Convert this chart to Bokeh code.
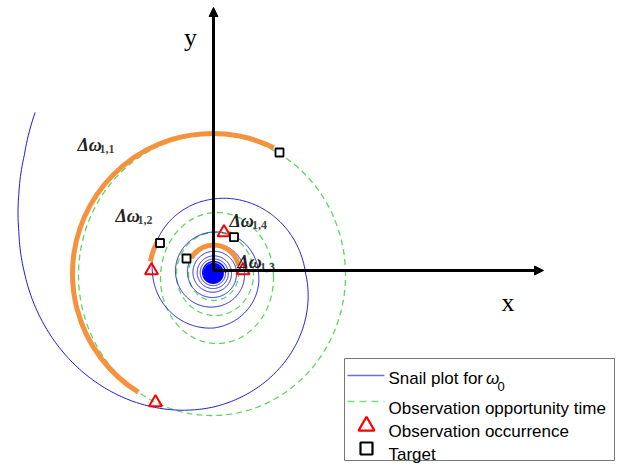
import numpy as np
from bokeh.plotting import figure
from bokeh.models import Range1d, Arrow, NormalHead
from bokeh.core.properties import value
from bokeh.embed import file_html
from bokeh.resources import INLINE

# ---------------- data (1 unit = 1 px, origin at axes crossing) ----------------
# Blue snail spiral: anchor angles (deg, counter-clockwise from +x) and radii, outer end first
snail_angle = [138, 148, 158, 168, 180, 270, 360, 450, 540, 630, 720, 810, 900, 990, 1080, 1170,
               1260, 1350, 1440, 1620, 1800, 1980, 2160, 2340, 2520, 2700, 2880,
               3240, 3600, 3960, 4320, 4680, 5040, 5400, 5760, 6120, 6480, 6840, 7200,
               7560, 7920, 8280, 8640, 9000, 9360]
snail_radius = [240, 223, 210, 199, 189, 134, 92, 74, 61, 55, 45, 41, 38, 34, 31, 28.5,
                26, 24.5, 23, 20.5, 18, 16.3, 14.8, 13.3, 12, 10.8, 9.7,
                9.0, 8.3, 7.6, 6.9, 6.2, 5.6, 5.0, 4.4, 3.8, 3.3, 2.8, 2.3,
                1.8, 1.4, 1.0, 0.7, 0.45, 0.25]
snail_cx, snail_cy = 0.0, -2.5
snail_core_from = 24   # anchor index where the tightly wound core begins

# Green dashed observation-opportunity loops (centre, half-width, half-height)
opp_cx = [-1.5, 3.5, 1.5, 0.0]
opp_cy = [-4.5, -7.5, -3.5, -3.0]
opp_rx = [133.5, 56.5, 38.5, 25.0]
opp_ry = [140.5, 65.5, 41.5, 27.0]

# Orange arcs  Δω1,1 .. Δω1,4
arc_names = ["1,1", "1,2", "1,3", "1,4"]
arc_cx = [-1, 0, 0, 0]
arc_cy = [-3, -2, 0, -2]
arc_r = [140, 64, 25.5, 42]
arc_start = [64, 152, 11, 61]
arc_end = [238, 170, 150, 71]

# Observation occurrences (red triangles) and targets (black squares)
occ_x = [-58, -62, 29.5, 10.5]
occ_y = [-132, 0, 0, 38]
tgt_x = [66, -53.5, -27, 20.5]
tgt_y = [118, 27.5, 12, 33.3]

# Δω labels: main text position and subscript position
lab_x = [-136, -98, 24, 16]
lab_y = [126, 55, 9, 50]
sub_x = [-114, -76, 46.5, 38.5]
sub_y = [122, 51, 4, 45.5]

legend_labels = ["Snail plot for", "Observation opportunity time", "Observation occurrence", "Target"]

BLUE = "#1c1cd6"
GREEN = "#5cd65c"
ORANGE = "#f5923e"


def spiral_xy(angles, radii, cx, cy):
    xs, ys = [], []
    last = len(angles) - 2
    for i in range(len(angles) - 1):
        a0, a1 = angles[i], angles[i + 1]
        r0, r1 = radii[i], radii[i + 1]
        n = int(abs(a1 - a0)) + 1
        t = np.linspace(0, 1, n, endpoint=(i == last))
        a = np.radians(a0 + (a1 - a0) * t)
        r = r0 * (r1 / r0) ** t
        xs.append(cx + r * np.cos(a))
        ys.append(cy + r * np.sin(a))
    return np.concatenate(xs), np.concatenate(ys)


p = figure(width=621, height=466, x_range=Range1d(-213, 408), y_range=Range1d(-196, 270),
           output_backend="svg", toolbar_location=None, x_axis_type=None, y_axis_type=None,
           min_border=0)
p.outline_line_color = None
p.background_fill_color = "white"
p.border_fill_color = "white"

# green dashed loops
tt = np.linspace(0, 2 * np.pi, 721)
gxs = [list(cx + rx * np.cos(tt)) for cx, rx in zip(opp_cx, opp_rx)]
gys = [list(cy + ry * np.sin(tt)) for cy, ry in zip(opp_cy, opp_ry)]
p.multi_line(xs=gxs, ys=gys, line_color=GREEN, line_width=1.3, line_dash="6 4")

# blue snail spiral (outer part thin, tightly wound core slightly heavier)
k = snail_core_from
sx, sy = spiral_xy(snail_angle[:k + 1], snail_radius[:k + 1], snail_cx, snail_cy)
p.line(sx, sy, line_color=BLUE, line_width=1.0)
cx_, cy_ = spiral_xy(snail_angle[k:], snail_radius[k:], snail_cx, snail_cy)
p.line(cx_, cy_, line_color="#0000ff", line_width=1.4)

# orange arcs
p.arc(x=arc_cx, y=arc_cy, radius=arc_r, start_angle=arc_start, end_angle=arc_end,
      start_angle_units="deg", end_angle_units="deg", direction="anticlock",
      line_color=ORANGE, line_width=5)

# markers
p.scatter(occ_x, occ_y, marker="triangle", size=13, line_color="red", line_width=2, fill_color=None)
p.scatter(tgt_x, tgt_y, marker="square", size=8, line_color="black", line_width=1.8, fill_color="white")

# Δω labels
p.text(x=lab_x, y=lab_y, text=["Δω"] * 4, text_font=value("Liberation Serif"),
       text_font_style="bold italic", text_font_size="18px", text_color="#222222",
       text_baseline="alphabetic", text_align="left")
p.text(x=sub_x, y=sub_y, text=arc_names, text_font=value("Liberation Serif"),
       text_font_style="bold", text_font_size="12px", text_color="#444444",
       text_baseline="alphabetic", text_align="left")

# axes with arrows
p.add_layout(Arrow(end=NormalHead(size=9, fill_color="black", line_color="black"),
                   x_start=0, y_start=0, x_end=0, y_end=263, line_width=3, line_color="black"))
p.add_layout(Arrow(end=NormalHead(size=9, fill_color="black", line_color="black"),
                   x_start=0, y_start=0, x_end=330, y_end=0, line_width=3, line_color="black"))
p.text(x=[-23, 294.5], y=[233, -31.7], text=["y", "x"], text_font=value("Liberation Serif"),
       text_font_size="26px", text_color="black", text_align="center", text_baseline="alphabetic")

# legend (drawn in pixel-sized data units)
p.quad(left=[131], right=[401], top=[-88], bottom=[-190], fill_color="white",
       line_color="#777777", line_width=1)
p.line([134, 171], [-105, -105], line_color="#6a6af0", line_width=1.6)
p.line([134, 171], [-131, -131], line_color="#6fe86f", line_width=1.6, line_dash="7 5")
p.scatter([153], [-155.5], marker="triangle", size=16, line_color="red", line_width=2.2, fill_color=None)
p.scatter([153], [-178], marker="square", size=12, line_color="black", line_width=2.2, fill_color=None)
p.text(x=[175] * 4, y=[-108, -138, -161, -184.3], text=legend_labels,
       text_font=value("Liberation Sans"), text_font_size="17px", text_color="black",
       text_baseline="alphabetic", text_align="left")
p.text(x=[272.5], y=[-108], text=["ω"], text_font=value("Liberation Sans"), text_font_style="italic",
       text_font_size="17px", text_color="black", text_baseline="alphabetic", text_align="left")
p.text(x=[284], y=[-115.5], text=["0"], text_font=value("Liberation Sans"),
       text_font_size="13px", text_color="black", text_baseline="alphabetic", text_align="left")

open("out.html", "w").write(file_html(p, INLINE))
